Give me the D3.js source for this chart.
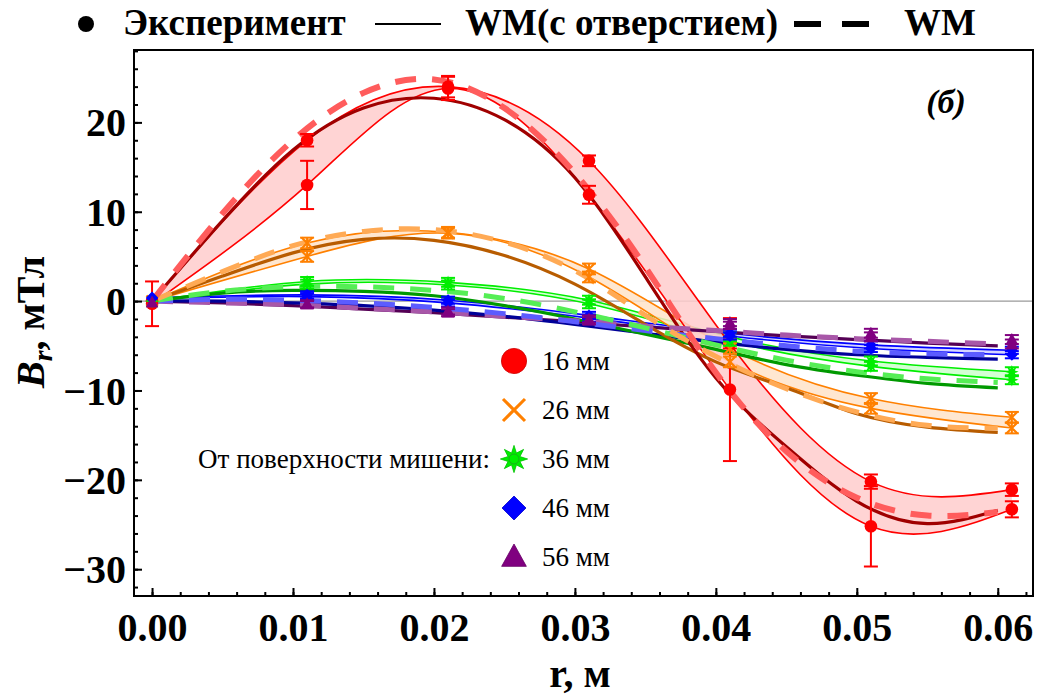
<!DOCTYPE html>
<html>
<head>
<meta charset="utf-8">
<script src="https://cdn.jsdelivr.net/npm/d3@7"></script>
<style>
  body{margin:0;background:#fff;}
  text{font-family:"Liberation Serif","Times New Roman",serif;}
</style>
</head>
<body>
<script>
//measurement positions, m
var rPoints = [0, 0.011, 0.021, 0.031, 0.041, 0.051, 0.061];
//positions where the model curves were read, m
var rModel = [0, 0.005, 0.01, 0.015, 0.02, 0.025, 0.03, 0.035, 0.04, 0.045, 0.05, 0.055, 0.06];

var distances = ["16 мм", "26 мм", "36 мм", "46 мм", "56 мм"];

//experiment, two sets per distance (mT) and their errors
var exp16a = [0, 18.0, 24.0, 15.7, -4.8, -20.2, -21.1];
var err16a = [0, 0.7, 1.2, 0.6, 0.5, 0.8, 0.7];
var exp16b = [-0.3, 13.0, 23.8, 11.9, -9.9, -25.2, -23.3];
var err16b = [2.5, 2.7, 1.3, 1.0, 8.0, 4.5, 0.9];

var exp26a = [0, 6.5, 7.7, 3.6, -5.3, -10.9, -13.0];
var err26a = [0, 0.6, 0.6, 0.6, 0.6, 0.6, 0.6];
var exp26b = [0, 5.0, 7.6, 2.7, -6.8, -12.0, -14.2];
var err26b = [0, 0.6, 0.6, 0.6, 0.6, 0.6, 0.6];

var exp36a = [0, 2.2, 2.1, 0.1, -4.0, -6.7, -7.9];
var err36a = [0, 0.5, 0.5, 0.5, 0.5, 0.5, 0.5];
var exp36b = [0, 1.9, 1.8, -0.3, -4.5, -7.3, -8.8];
var err36b = [0, 0.5, 0.5, 0.5, 0.5, 0.5, 0.5];

var exp46a = [0.4, 0.7, 0.1, -1.6, -3.6, -4.9, -5.5];
var err46a = [0, 0.4, 0.4, 0.4, 0.4, 0.4, 0.4];
var exp46b = [0.3, 0.5, -0.2, -1.9, -3.9, -5.3, -6.0];
var err46b = [0, 0.4, 0.4, 0.4, 0.4, 0.4, 0.4];

var exp56a = [-0.1, -0.3, -1.1, -2.0, -2.4, -3.6, -4.3];
var err56a = [0, 0.4, 0.4, 0.4, 0.4, 0.5, 0.5];
var exp56b = [-0.2, -0.4, -1.3, -2.2, -2.7, -4.0, -4.8];
var err56b = [0, 0.4, 0.4, 0.4, 0.4, 0.5, 0.5];

//WM model with hole (solid) and WM model (dashed), mT at rModel
var wmHole16 = [0, 9.0, 16.9, 21.6, 22.7, 20.3, 13.8, 2.7, -8.6, -16.3, -22.4, -24.9, -23.4];
var wm16     = [0, 9.8, 18.0, 23.3, 24.8, 21.6, 14.3, 3.8, -8.0, -16.8, -22.0, -24.0, -23.6];
var wmHole26 = [0, 2.8, 5.4, 6.9, 6.8, 5.1, 1.9, -2.6, -6.8, -9.7, -12.6, -14.1, -14.7];
var wm26     = [0, 3.3, 6.2, 7.8, 8.0, 6.6, 3.4, -1.6, -6.2, -9.8, -12.4, -13.9, -14.2];
var wmHole36 = [0, 0.9, 1.2, 1.1, 0.6, -0.5, -2.0, -3.7, -5.4, -7.1, -8.3, -9.2, -9.7];
var wm36     = [0, 1.1, 1.6, 1.6, 1.2, 0.3, -1.2, -3.0, -4.9, -6.6, -7.9, -8.7, -9.1];
var wmHole46 = [0, 0.0, -0.2, -0.5, -1.0, -1.7, -2.6, -3.6, -4.6, -5.4, -6.0, -6.3, -6.5];
var wm46     = [0, 0.2, 0.1, -0.2, -0.7, -1.4, -2.3, -3.3, -4.2, -5.0, -5.6, -5.9, -6.0];
var wmHole56 = [0, -0.2, -0.5, -0.9, -1.3, -1.8, -2.3, -2.9, -3.4, -3.9, -4.3, -4.7, -5.0];
var wm56     = [0, -0.2, -0.4, -0.8, -1.2, -1.7, -2.2, -2.8, -3.3, -3.8, -4.2, -4.5, -4.8];

var xTicks = [0, 0.01, 0.02, 0.03, 0.04, 0.05, 0.06];
var yTicks = [-30, -20, -10, 0, 10, 20];

(function(){

  var width = 1046, height = 700;

  //series table built from the arrays above
  var series = [
    {name: distances[0], sym: "circle", c: "#ff0000", band: "#ffcccc", dark: "#a00000", light: "#ff5c5c", dw: 6,
      a: exp16a, ea: err16a, b: exp16b, eb: err16b, hole: wmHole16, wm: wm16},
    {name: distances[1], sym: "x", c: "#ff8000", band: "#ffe3c8", dark: "#b85c00", light: "#ffaa55", dw: 5,
      a: exp26a, ea: err26a, b: exp26b, eb: err26b, hole: wmHole26, wm: wm26},
    {name: distances[2], sym: "star", c: "#00ee00", band: "#ccffcc", dark: "#009900", light: "#55ee55", dw: 5,
      a: exp36a, ea: err36a, b: exp36b, eb: err36b, hole: wmHole36, wm: wm36},
    {name: distances[3], sym: "diamond", c: "#0000ff", band: "#ccccff", dark: "#000099", light: "#5c5cff", dw: 5,
      a: exp46a, ea: err46a, b: exp46b, eb: err46b, hole: wmHole46, wm: wm46},
    {name: distances[4], sym: "triangle", c: "#800080", band: null, dark: "#550055", light: "#a857a8", dw: 5,
      a: exp56a, ea: err56a, b: exp56b, eb: err56b, hole: wmHole56, wm: wm56}
  ];

  var svg = d3.select("body").append("svg")
    .attr("width", width)
    .attr("height", height);

  var x = d3.scaleLinear().domain([-0.00128, 0.0625]).range([134, 1033]);
  var y = d3.scaleLinear().domain([-33.0, 28.1]).range([596, 50]);

  svg.append("clipPath").attr("id", "clip")
    .append("rect")
    .attr("x", 134).attr("y", 50)
    .attr("width", 899).attr("height", 546);

  var plot = svg.append("g").attr("clip-path", "url(#clip)");

  //zero line
  plot.append("line")
    .attr("x1", 134).attr("x2", 1033)
    .attr("y1", y(0)).attr("y2", y(0))
    .attr("stroke", "#9a9a9a").attr("stroke-width", 1.2);

  var draw = series.slice().reverse(); //red ends on top

  //bands between the two experiment curves
  var band = d3.area()
    .x(function(d){ return x(d.r); })
    .y0(function(d){ return y(d.b); })
    .y1(function(d){ return y(d.a); })
    .curve(d3.curveNatural);

  var thin = d3.line()
    .x(function(d){ return x(d[0]); })
    .y(function(d){ return y(d[1]); })
    .curve(d3.curveNatural);

  draw.forEach(function(s){
    if (!s.band) return;
    var pts = rPoints.map(function(r, i){ return {r: r, a: s.a[i], b: s.b[i]}; });
    plot.append("path").datum(pts)
      .attr("d", band)
      .attr("fill", s.band)
      .attr("fill-opacity", 0.85);
    [s.a, s.b].forEach(function(vals){
      plot.append("path")
        .datum(rPoints.map(function(r, i){ return [r, vals[i]]; }))
        .attr("d", thin)
        .attr("fill", "none")
        .attr("stroke", s.c)
        .attr("stroke-width", 1.6);
    });
  });

  //model curves
  draw.forEach(function(s){
    plot.append("path")
      .datum(rModel.map(function(r, i){ return [r, s.hole[i]]; }))
      .attr("d", thin)
      .attr("fill", "none")
      .attr("stroke", s.dark)
      .attr("stroke-width", 3.2);
  });
  draw.forEach(function(s){
    plot.append("path")
      .datum(rModel.map(function(r, i){ return [r, s.wm[i]]; }))
      .attr("d", thin)
      .attr("fill", "none")
      .attr("stroke", s.light)
      .attr("stroke-width", s.dw)
      .attr("stroke-dasharray", "21,16");
  });

  //experiment points with error bars
  series.forEach(function(s){
    [[s.a, s.ea], [s.b, s.eb]].forEach(function(set){
      rPoints.forEach(function(r, i){
        var v = set[0][i], e = set[1][i], cx = x(r);
        var g = plot.append("g");
        if (e > 0){
          g.append("line")
            .attr("x1", cx).attr("x2", cx)
            .attr("y1", y(v + e)).attr("y2", y(v - e))
            .attr("stroke", s.c).attr("stroke-width", 2);
          [v + e, v - e].forEach(function(t){
            g.append("line")
              .attr("x1", cx - 7).attr("x2", cx + 7)
              .attr("y1", y(t)).attr("y2", y(t))
              .attr("stroke", s.c).attr("stroke-width", 2);
          });
        }
        drawSymbol(g, s.sym, cx, y(v), 1, s.c, false);
      });
    });
  });

  //frame and axes
  svg.append("rect")
    .attr("x", 134).attr("y", 50)
    .attr("width", 899).attr("height", 546)
    .attr("fill", "none").attr("stroke", "#000").attr("stroke-width", 2);

  var xAxis = svg.append("g")
    .attr("transform", "translate(0,596)")
    .call(d3.axisBottom(x).tickValues(xTicks).tickSize(-8).tickPadding(17).tickFormat(d3.format(".2f")));
  var xMinor = svg.append("g")
    .attr("transform", "translate(0,596)")
    .call(d3.axisBottom(x).tickValues(d3.range(0, 0.0621, 0.002)).tickSize(-4).tickFormat(""));

  var yAxis = svg.append("g")
    .attr("transform", "translate(134,0)")
    .call(d3.axisLeft(y).tickValues(yTicks).tickSize(-8).tickPadding(8));
  var yMinor = svg.append("g")
    .attr("transform", "translate(134,0)")
    .call(d3.axisLeft(y).tickValues(d3.range(-32, 28.1, 2)).tickSize(-4).tickFormat(""));

  [xAxis, xMinor, yAxis, yMinor].forEach(function(ax){
    ax.select(".domain").remove();
    ax.selectAll(".tick line").attr("stroke", "#000").attr("stroke-width", 2);
    ax.selectAll("text")
      .attr("font-family", "Liberation Serif")
      .attr("font-weight", "bold")
      .attr("font-size", 40)
      .attr("fill", "#000");
  });
  yAxis.selectAll("text").attr("dy", "0.34em");

  //axis titles
  svg.append("text")
    .attr("x", 580).attr("y", 687)
    .attr("text-anchor", "middle")
    .attr("font-size", 40).attr("font-weight", "bold")
    .text("r, м");

  var yt = svg.append("text")
    .attr("transform", "translate(44,322) rotate(-90)")
    .attr("text-anchor", "middle")
    .attr("font-size", 40).attr("font-weight", "bold");
  yt.append("tspan").attr("font-style", "italic").text("B");
  yt.append("tspan").attr("font-style", "italic").attr("font-size", 28).attr("dy", 8).text("r");
  yt.append("tspan").attr("dy", -8).text(", мТл");

  svg.append("text")
    .attr("x", 946).attr("y", 113)
    .attr("text-anchor", "middle")
    .attr("font-size", 34).attr("font-weight", "bold").attr("font-style", "italic")
    .text("(б)");

  //top legend
  svg.append("circle").attr("cx", 86).attr("cy", 24).attr("r", 8).attr("fill", "#000");
  svg.append("text").attr("x", 123).attr("y", 35)
    .attr("font-size", 37).attr("font-weight", "bold").text("Эксперимент");
  svg.append("line").attr("x1", 375).attr("x2", 441).attr("y1", 24).attr("y2", 24)
    .attr("stroke", "#000").attr("stroke-width", 2);
  svg.append("text").attr("x", 465).attr("y", 35)
    .attr("font-size", 37).attr("font-weight", "bold").text("WM(с отверстием)");
  svg.append("line").attr("x1", 794).attr("x2", 870).attr("y1", 24).attr("y2", 24)
    .attr("stroke", "#000").attr("stroke-width", 6).attr("stroke-dasharray", "27,21");
  svg.append("text").attr("x", 904).attr("y", 35)
    .attr("font-size", 37).attr("font-weight", "bold").text("WM");

  //inner legend
  var leg = svg.append("g");
  series.forEach(function(s, i){
    var ly = 361 + i * 49;
    drawSymbol(leg, s.sym, 514, ly, 2, s.c, true);
    leg.append("text").attr("x", 542).attr("y", ly + 9)
      .attr("font-size", 27).text(s.name);
  });
  leg.append("text").attr("x", 490).attr("y", 459 + 9)
    .attr("text-anchor", "end")
    .attr("font-size", 27).text("От поверхности мишени:");

  //marker shapes
  function drawSymbol(g, sym, cx, cy, k, col, edge){
    var stroke = edge ? d3.color(col).darker(0.6) : "none";
    if (sym == "circle"){
      g.append("circle").attr("cx", cx).attr("cy", cy).attr("r", 6.3 * k)
        .attr("fill", col).attr("stroke", stroke).attr("stroke-width", 0.8);
    } else if (sym == "x"){
      var h = 5.5 * k;
      g.append("path")
        .attr("d", "M" + (cx - h) + "," + (cy - h) + "L" + (cx + h) + "," + (cy + h) +
          "M" + (cx - h) + "," + (cy + h) + "L" + (cx + h) + "," + (cy - h))
        .attr("stroke", col).attr("stroke-width", 2.2 * (k > 1 ? 1.4 : 1)).attr("fill", "none");
    } else if (sym == "star"){
      var pts = [];
      for (var j = 0; j < 16; j++){
        var rr = j % 2 ? 3.2 * k : 6.8 * k;
        var ang = j * Math.PI / 8 - Math.PI / 2;
        pts.push([cx + rr * Math.cos(ang), cy + rr * Math.sin(ang)]);
      }
      g.append("path").attr("d", "M" + pts.join("L") + "Z")
        .attr("fill", col).attr("stroke", stroke).attr("stroke-width", 0.8);
      if (edge){
        g.append("circle").attr("cx", cx).attr("cy", cy).attr("r", 2.5 * k)
          .attr("fill", "none").attr("stroke", "#229922").attr("stroke-width", 0.8);
      }
    } else if (sym == "diamond"){
      var d = 6 * k;
      g.append("path")
        .attr("d", "M" + cx + "," + (cy - d) + "L" + (cx + d) + "," + cy + "L" + cx + "," + (cy + d) + "L" + (cx - d) + "," + cy + "Z")
        .attr("fill", col).attr("stroke", stroke).attr("stroke-width", 0.8);
    } else {
      var t = 6.5 * k;
      g.append("path")
        .attr("d", "M" + cx + "," + (cy - t) + "L" + (cx + t * 0.95) + "," + (cy + t * 0.72) + "L" + (cx - t * 0.95) + "," + (cy + t * 0.72) + "Z")
        .attr("fill", col).attr("stroke", stroke).attr("stroke-width", 0.8);
    }
  }
})();
</script>
</body>
</html>
